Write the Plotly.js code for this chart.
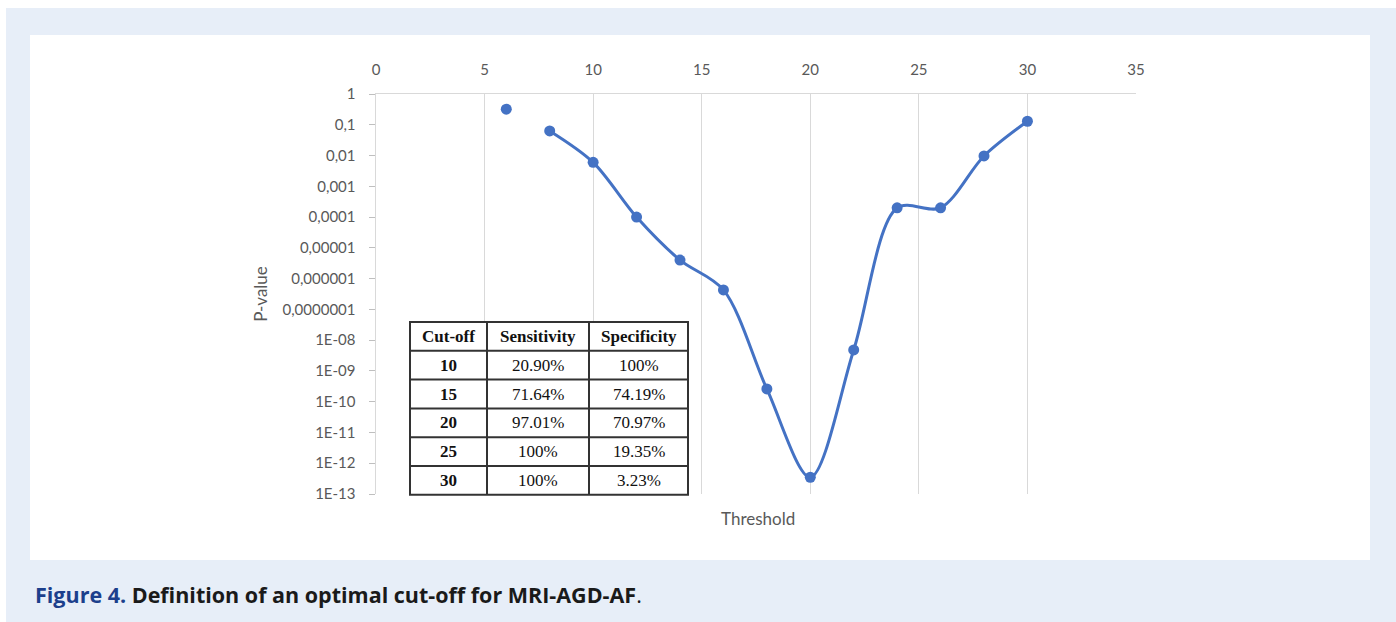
<!DOCTYPE html>
<html>
<head>
<meta charset="utf-8">
<script src="https://cdn.plot.ly/plotly-3.0.1.min.js"></script>
<style>html,body{margin:0;padding:0;background:#fff;}#chart{width:1396px;height:622px;}</style>
</head>
<body>
<div id="chart"></div>
<script>
// Data
var isolatedX = [6];
var isolatedP = [0.32];
var thresholds = [8, 10, 12, 14, 16, 18, 20, 22, 24, 26, 28, 30];
var pValues = [0.063, 0.006, 1e-4, 4e-6, 4.3e-7, 2.6e-10, 3.5e-13, 4.8e-9, 2e-4, 2e-4, 0.0097, 0.13];
var yTickVals = [1, 0.1, 0.01, 0.001, 1e-4, 1e-5, 1e-6, 1e-7, 1e-8, 1e-9, 1e-10, 1e-11, 1e-12, 1e-13];
var yTickText = ["1", "0,1", "0,01", "0,001", "0,0001", "0,00001", "0,000001", "0,0000001", "1E-08", "1E-09", "1E-10", "1E-11", "1E-12", "1E-13"];
var tableHeader = ["Cut-off", "Sensitivity", "Specificity"];
var cutoffs = ["10", "15", "20", "25", "30"];
var sensitivity = ["20.90%", "71.64%", "97.01%", "100%", "100%"];
var specificity = ["100%", "74.19%", "70.97%", "19.35%", "3.23%"];

// pixel helpers (plot area 376..1136 x, 94..494 y)
var L = 376, R = 1136, T = 94, B = 494;
function px(x){ return (x - L) / (R - L); }
function py(y){ return (B - y) / (B - T); }

var blue = '#4472C4';
var data = [
  {
    x: thresholds, y: pValues, type: 'scatter', mode: 'lines+markers',
    line: {color: blue, width: 3, shape: 'spline', smoothing: 0.9},
    marker: {color: blue, size: 11}, showlegend: false
  },
  {
    x: isolatedX, y: isolatedP, type: 'scatter', mode: 'markers',
    marker: {color: blue, size: 11}, showlegend: false
  }
];

var shapes = [
  {type: 'rect', xref: 'paper', yref: 'paper', layer: 'below',
   x0: px(6), x1: px(1396), y0: py(8), y1: py(622),
   fillcolor: '#e7eef8', line: {width: 0}},
  {type: 'rect', xref: 'paper', yref: 'paper', layer: 'below',
   x0: px(30), x1: px(1370), y0: py(35), y1: py(560),
   fillcolor: '#ffffff', line: {width: 0}}
];
var annotations = [
  {text: 'Threshold', xref: 'paper', yref: 'paper', x: px(758), y: py(518),
   showarrow: false, font: {family: 'Lato, sans-serif', size: 17, color: '#595959'}, xanchor: 'center', yanchor: 'middle'},
  {text: '<b><span style="color:#1c3f8c">Figure 4.</span> Definition of an optimal cut-off for MRI-AGD-AF</b>.',
   xref: 'paper', yref: 'paper', x: px(33), y: py(594), xanchor: 'left', yanchor: 'middle',
   showarrow: false, font: {family: 'Open Sans, sans-serif', size: 21.5, color: '#1a1a1a'}}
];

// Table overlay built from the table arrays
var tblTop = 322, rowH = 28.8;
var colEdges = [410, 487, 589, 688];
var nRows = cutoffs.length + 1;
var tblBottom = tblTop + rowH * nRows;
shapes.push({type: 'rect', xref: 'paper', yref: 'paper', layer: 'above',
  x0: px(colEdges[0]), x1: px(colEdges[3]), y0: py(tblBottom), y1: py(tblTop),
  fillcolor: '#ffffff', line: {color: '#333333', width: 2}});
for (var c = 1; c < colEdges.length - 1; c++) {
  shapes.push({type: 'line', xref: 'paper', yref: 'paper', layer: 'above',
    x0: px(colEdges[c]), x1: px(colEdges[c]), y0: py(tblBottom), y1: py(tblTop),
    line: {color: '#333333', width: 2}});
}
for (var r = 1; r < nRows; r++) {
  shapes.push({type: 'line', xref: 'paper', yref: 'paper', layer: 'above',
    x0: px(colEdges[0]), x1: px(colEdges[3]), y0: py(tblTop + r * rowH), y1: py(tblTop + r * rowH),
    line: {color: '#333333', width: 2}});
}
var columns = [cutoffs.map(function(v){ return '<b>' + v + '</b>'; }), sensitivity, specificity];
function cellAnn(text, col, row) {
  return {text: text, xref: 'paper', yref: 'paper', showarrow: false,
    x: px((colEdges[col] + colEdges[col + 1]) / 2), y: py(tblTop + (row + 0.5) * rowH),
    xanchor: 'center', yanchor: 'middle',
    font: {family: 'Liberation Serif, Times New Roman, serif', size: 17, color: '#111111'}};
}
for (var h = 0; h < tableHeader.length; h++) annotations.push(cellAnn('<b>' + tableHeader[h] + '</b>', h, 0));
for (var cc = 0; cc < columns.length; cc++) {
  for (var rr = 0; rr < columns[cc].length; rr++) annotations.push(cellAnn(columns[cc][rr], cc, rr + 1));
}

var layout = {
  width: 1396, height: 622,
  margin: {l: L, r: 1396 - R, t: T, b: 622 - B, pad: 0},
  paper_bgcolor: '#ffffff', plot_bgcolor: 'rgba(0,0,0,0)',
  font: {family: 'Lato, sans-serif', color: '#595959', size: 15},
  xaxis: {
    range: [0, 35], side: 'top', tickvals: [0,5,10,15,20,25,30,35],
    showgrid: true, gridcolor: '#d9d9d9', gridwidth: 1,
    showline: true, linecolor: '#d9d9d9', linewidth: 1.5,
    zeroline: false, ticks: '', ticklabelstandoff: 12,
    tickfont: {size: 15, color: '#595959'}, fixedrange: true
  },
  yaxis: {
    type: 'log', range: [-13, 0], tickvals: yTickVals, ticktext: yTickText,
    showgrid: false, showline: true, linecolor: '#d9d9d9', linewidth: 1.5,
    ticks: 'outside', ticklen: 6, tickcolor: '#bfbfbf', zeroline: false,
    ticklabelstandoff: 10,
    tickfont: {size: 15, color: '#595959'},
    title: {text: 'P-value', font: {size: 17, color: '#595959'}, standoff: 10},
    fixedrange: true
  },
  shapes: shapes,
  annotations: annotations
};

Plotly.newPlot('chart', data, layout, {displayModeBar: false, staticPlot: true});
</script>
</body>
</html>
